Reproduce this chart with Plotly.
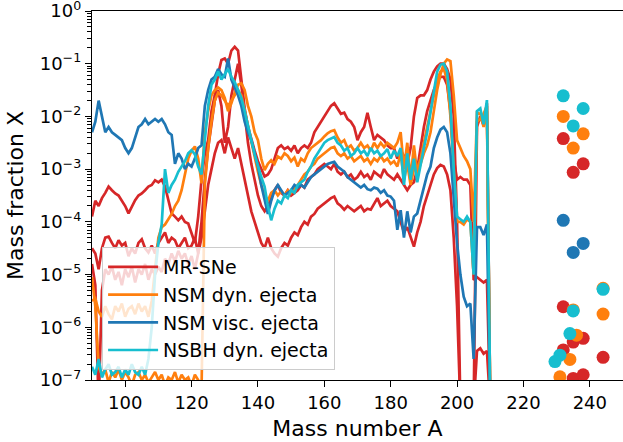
import numpy as np
import plotly.graph_objects as go

# mass numbers shared by all abundance curves
mass_number = list(range(90, 211))

# log10 of mass fraction (one value per mass number 90..210)
mr_sne_a = [-3.9, -3.6, -3.7, -3.55, -3.45, -3.33, -3.4, -3.46, -3.5, -3.59,
            -3.7, -3.84, -3.7, -3.59, -3.5, -3.46, -3.4, -3.33, -3.3, -3.21,
            -3.25, -3.2, -3.33, -3.6, -3.84, -3.9, -3.97, -3.9, -4.0, -4.03,
            -4.2, -4.4, -3.9, -3.2, -2.7, -2.45, -1.9, -1.6, -1.2, -0.93,
            -0.9, -1.0, -0.75, -0.68, -0.75, -1.3, -1.85, -2.2, -2.45, -2.65,
            -2.85, -3.0, -3.14, -3.1, -3.0, -2.8, -2.6, -2.55, -2.62, -2.58,
            -2.65, -2.55, -2.7, -2.6, -2.55, -2.6, -2.5, -2.3, -2.2, -2.1,
            -2.0, -1.9, -1.8, -1.75, -1.85, -1.95, -1.93, -2.05, -2.1, -2.2,
            -2.45, -2.3, -2.2, -1.93, -2.2, -2.45, -2.35, -2.4, -2.45, -2.55,
            -2.6, -2.6, -2.8, -2.65, -2.75, -2.9, -2.6, -2.0, -1.65, -1.6,
            -1.6, -1.5, -1.3, -1.15, -1.05, -1.0, -1.0, -1.1, -1.3, -2.0,
            -4.0, -7.5, -7.5, -7.5, -7.5, -7.5, -2.2, -2.0, -2.17, -1.75,
            -7.5]
mr_sne_b = [-4.5, -4.6, -4.9, -4.5, -4.3, -4.28, -4.4, -4.5, -4.35, -4.45,
            -4.4, -4.65, -4.5, -4.6, -4.4, -4.33, -4.5, -4.58, -4.45, -4.6,
            -4.4, -4.3, -4.2, -4.4, -4.3, -4.35, -4.5, -4.4, -4.3, -4.5,
            -4.45, -4.3, -4.6, -4.0, -3.2, -2.6, -2.1, -1.7, -1.5, -1.8,
            -2.5, -2.2, -1.6, -1.3, -1.0, -1.4, -2.0, -2.5, -2.9, -3.2,
            -3.5, -3.7, -3.8, -3.7, -3.55, -3.4, -3.3, -3.45, -3.5, -3.4,
            -3.5, -3.45, -3.4, -3.3, -3.35, -3.2, -3.15, -3.1, -3.0, -2.95,
            -2.9, -2.95, -3.0, -2.9, -3.05, -3.1, -3.05, -3.15, -3.1, -3.2,
            -3.15, -3.05, -3.15, -3.1, -3.2, -3.05, -3.1, -3.15, -3.0, -3.1,
            -3.15, -3.2, -3.1, -3.2, -3.3, -3.4, -3.3, -3.25, -3.0, -2.6,
            -2.2, -1.9, -1.7, -1.5, -1.35, -1.25, -1.25, -1.4, -1.9, -2.8,
            -3.2, -3.15, -3.2, -3.2, -3.3, -5.1, -5.05, -5.1, -5.15, -5.1,
            -7.5]
mr_sne_c = [-4.8, -5.2, -7.5, -5.3, -4.9, -5.0, -4.85, -5.1, -4.95, -5.2,
            -4.9, -5.05, -4.85, -5.15, -4.9, -5.0, -4.8, -5.1, -4.9, -5.0,
            -4.85, -4.95, -4.7, -4.8, -4.6, -4.75, -4.55, -4.7, -4.6, -4.8,
            -4.65, -4.9, -4.6, -4.3, -3.8, -3.3, -3.0, -2.7, -2.5, -2.45,
            -2.7, -2.4, -2.6, -2.8, -2.6, -2.9, -3.2, -3.5, -3.8, -4.0,
            -4.2, -4.4, -4.5, -4.3, -4.5, -4.6, -4.66, -4.5, -4.4, -4.45,
            -4.3, -4.2, -4.25, -4.1, -4.0, -4.05, -3.9, -3.85, -3.75, -3.7,
            -3.65, -3.6, -3.55, -3.52, -3.65, -3.7, -3.77, -3.7, -3.75, -3.8,
            -3.75, -3.7, -3.8, -3.75, -3.77, -3.65, -3.55, -3.7, -3.65, -3.6,
            -3.7, -3.75, -3.8, -4.0, -4.2, -4.1, -4.3, -4.47, -4.2, -4.0,
            -3.7, -3.5, -3.3, -3.1, -2.98, -2.92, -2.95, -3.1, -3.4, -4.3,
            -5.6, -7.5, -7.5, -7.5, -7.5, -7.5, -6.45, -6.4, -6.5, -6.45,
            -7.5]
nsm_dyn_a = [-5.5, -5.45, -5.7, -5.8, -5.6, -5.75, -5.85, -5.6, -5.7, -5.55,
             -5.8, -5.65, -5.6, -5.75, -5.55, -5.7, -5.6, -5.8, -5.5, -4.9,
             -4.3, -4.1, -4.05, -3.95, -3.85, -3.7, -3.6, -3.4, -3.1, -2.8,
             -2.65, -2.57, -2.8, -3.27, -2.3, -1.9, -1.6, -1.5, -1.45, -1.5,
             -1.65, -1.9, -1.75, -1.55, -1.4, -1.37, -1.5, -1.8, -2.0, -2.3,
             -2.45, -2.8, -3.02, -2.9, -2.83, -2.9, -2.76, -2.8, -2.7, -2.75,
             -2.85, -2.78, -2.95, -2.8, -2.85, -2.7, -2.6, -2.55, -2.5, -2.45,
             -2.38, -2.32, -2.28, -2.26, -2.4, -2.5, -2.45, -2.6, -2.55, -2.65,
             -2.6, -2.5, -2.6, -2.55, -2.65, -2.5, -2.6, -2.5, -2.58, -2.5,
             -2.55, -2.6, -2.5, -2.3, -3.0, -2.5, -3.2, -2.55, -3.1, -2.9,
             -2.7, -2.55, -2.3, -1.9, -1.5, -1.2, -1.0, -0.92, -0.95, -1.6,
             -2.45, -2.6, -2.75, -2.85, -3.0, -4.0, -1.93, -1.95, -2.2, -1.9,
             -7.5]
nsm_dyn_b = [-5.05, -5.6, -6.75, -6.9, -6.8, -7.05, -6.85, -6.95, -6.8, -7.0,
             -6.85, -6.95, -7.1, -6.9, -6.85, -7.0, -6.9, -7.05, -6.95, -6.85,
             -7.0, -6.9, -7.1, -6.95, -7.0, -6.85, -7.05, -6.9, -7.0, -6.95,
             -7.1, -6.9, -7.0, -7.2, -3.3, -2.6, -2.1, -1.7, -1.55, -1.6,
             -1.7, -1.8, -1.7, -1.6, -1.5, -1.6, -1.9, -2.2, -2.5, -2.8,
             -3.05, -3.3, -3.5, -3.6, -3.45, -3.4, -3.5, -3.42, -3.5, -3.4,
             -3.45, -3.35, -3.3, -3.2, -3.1, -3.05, -2.95, -2.9, -2.8, -2.75,
             -2.7, -2.65, -2.6, -2.58, -2.7, -2.75, -2.7, -2.8, -2.75, -2.85,
             -2.8, -2.75, -2.85, -2.8, -2.9, -2.8, -2.85, -2.75, -2.85, -2.8,
             -2.9, -2.85, -2.95, -2.7, -3.2, -2.9, -3.3, -3.0, -3.0, -2.8,
             -2.5, -2.2, -1.9, -1.6, -1.3, -1.15, -1.1, -1.3, -2.0, -3.0,
             -4.0, -4.0, -4.05, -3.95, -4.0, -5.0, -2.1, -2.05, -1.95, -1.8,
             -7.5]
nsm_visc = [-2.3, -2.1, -1.7, -2.0, -2.3, -2.2, -2.3, -2.35, -2.4, -2.45,
            -2.6, -2.7, -2.6, -2.4, -2.2, -2.15, -2.05, -2.15, -2.1, -2.05,
            -2.1, -2.05, -2.15, -2.3, -2.35, -2.9, -2.7, -2.8, -3.0, -2.9,
            -2.95, -2.8, -2.6, -2.55, -1.8, -1.5, -1.3, -1.25, -1.1, -1.2,
            -1.25, -0.9, -1.3, -1.45, -1.6, -1.8, -2.1, -2.3, -2.45, -2.7,
            -2.95, -3.3, -3.6, -3.85, -3.6, -3.4, -3.3, -3.4, -3.5, -3.45,
            -3.4, -3.3, -3.35, -3.3, -3.35, -3.25, -3.15, -3.1, -3.05, -3.0,
            -2.95, -2.9, -2.88, -2.86, -2.95, -3.0, -3.05, -3.15, -3.2, -3.25,
            -3.3, -3.35, -3.3, -3.38, -3.4, -3.35, -3.37, -3.45, -3.4, -3.5,
            -3.52, -3.6, -4.15, -3.78, -4.3, -3.8, -4.2, -3.9, -3.84, -3.6,
            -3.33, -3.1, -2.95, -2.6, -2.4, -2.25, -2.2, -2.3, -2.7, -3.5,
            -4.4, -5.0, -5.42, -5.6, -5.55, -6.6, -4.1, -4.1, -4.25, -4.05,
            -7.5]
nsbh_dyn = [-6.75, -6.9, -6.6, -6.95, -6.8, -6.7, -6.9, -6.85, -6.75, -6.95,
            -6.8, -6.9, -6.7, -6.85, -6.9, -6.75, -6.9, -6.6, -6.0, -5.0,
            -4.4, -4.05, -3.0, -3.45, -3.3, -3.2, -3.05, -2.95, -2.85, -2.7,
            -2.64, -2.72, -2.95, -3.1, -2.4, -1.8, -1.4, -1.3, -1.15, -1.3,
            -1.2, -1.1, -1.25, -1.35, -1.5, -1.65, -1.9, -2.2, -2.45, -2.72,
            -2.95, -3.15, -3.33, -3.7, -3.97, -3.75, -3.6, -3.65, -3.5, -3.55,
            -3.4, -3.45, -3.3, -3.25, -3.2, -3.05, -2.95, -2.8, -2.7, -2.6,
            -2.5, -2.45, -2.42, -2.39, -2.5, -2.55, -2.65, -2.6, -2.75, -2.7,
            -2.6, -2.7, -2.65, -2.75, -2.6, -2.7, -2.65, -2.75, -2.7, -2.62,
            -2.8, -2.65, -2.75, -2.6, -3.3, -2.7, -3.2, -2.8, -3.25, -2.9,
            -2.6, -2.3, -1.9, -1.5, -1.15, -1.02, -1.0, -1.15, -1.8, -3.0,
            -3.9, -3.95, -4.0, -3.9, -4.0, -5.0, -1.9, -1.85, -2.15, -1.69,
            -7.5]

# actinide points: mass number and log10 mass fraction
mr_sne_pts_a = [232, 238, 235, 232, 235, 238, 232, 244, 235, 238]
mr_sne_pts_x = [-2.42, -2.9, -3.06, -5.61, -6.28, -6.21, -6.43, -6.57, -6.97, -6.9]
nsm_dyn_pts_a = [232, 238, 235, 244, 235, 244, 236, 234, 231]
nsm_dyn_pts_x = [-2.0, -2.33, -2.6, -5.26, -5.67, -5.75, -6.15, -6.61, -6.94]
nsm_visc_pts_a = [232, 238, 235]
nsm_visc_pts_x = [-3.97, -4.41, -4.58]
nsbh_pts_a = [232, 238, 235, 244, 235, 234, 231, 229.5]
nsbh_pts_x = [-1.61, -1.85, -2.18, -5.28, -5.69, -6.12, -6.53, -6.65]

groups = [
    ("MR-SNe", "#d62728", [mr_sne_a, mr_sne_b, mr_sne_c], mr_sne_pts_a, mr_sne_pts_x),
    ("NSM dyn. ejecta", "#ff7f0e", [nsm_dyn_a, nsm_dyn_b], nsm_dyn_pts_a, nsm_dyn_pts_x),
    ("NSM visc. ejecta", "#1f77b4", [nsm_visc], nsm_visc_pts_a, nsm_visc_pts_x),
    ("NSBH dyn. ejecta", "#17becf", [nsbh_dyn], nsbh_pts_a, nsbh_pts_x),
]

fig = go.Figure()
for name, color, curves, pa, px in groups:
    for i, c in enumerate(curves):
        fig.add_trace(go.Scatter(
            x=mass_number, y=10 ** np.array(c), mode="lines",
            line=dict(color=color, width=2.7),
            name=name, legendgroup=name, showlegend=(i == 0)
        ))
for name, color, curves, pa, px in groups:
    fig.add_trace(go.Scatter(
        x=pa, y=10 ** np.array(px), mode="markers",
        marker=dict(color=color, size=13, line=dict(width=0)),
        legendgroup=name, showlegend=False
    ))

font = dict(family="DejaVu Sans", size=18, color="black")
fig.update_layout(
    width=623, height=442,
    margin=dict(l=92, r=0, t=11, b=62),
    plot_bgcolor="white", paper_bgcolor="white",
    font=font,
    showlegend=True,
    legend=dict(
        x=0.019, y=0.027, xanchor="left", yanchor="bottom",
        bgcolor="rgba(255,255,255,0.8)", bordercolor="#cccccc", borderwidth=1,
        font=dict(family="DejaVu Sans", size=19, color="black"),
        tracegroupgap=0, itemwidth=50,
    ),
)
fig.update_xaxes(
    range=[90, 250], tickvals=[100, 120, 140, 160, 180, 200, 220, 240],
    ticks="outside", ticklen=6, tickwidth=1.4, tickcolor="black",
    showline=True, linecolor="black", linewidth=1.4, mirror=True,
    showgrid=False, zeroline=False, automargin=False,
    title=dict(text="Mass number A", standoff=8),
)
fig.update_yaxes(
    type="log", range=[-7, 0],
    tickvals=[10.0 ** k for k in range(-7, 1)],
    ticktext=["10<sup>\u2212%d</sup>" % (-k) if k < 0 else "10<sup>0</sup>" for k in range(-7, 1)],
    ticks="outside", ticklen=6, tickwidth=1.4, tickcolor="black",
    minor=dict(ticks="outside", ticklen=3.5, tickwidth=1, tickcolor="black", dtick="D1", showgrid=False),
    showline=True, linecolor="black", linewidth=1.4,
    showgrid=False, zeroline=False, automargin=False, ticklabeloverflow="allow",
    title=dict(text="Mass fraction X", standoff=10),
)

# page has a default body margin; drop it so the figure sits at the window corner
fig.write_html("out.html", config={"displayModeBar": False},
               post_script="document.body.style.margin='0';")
